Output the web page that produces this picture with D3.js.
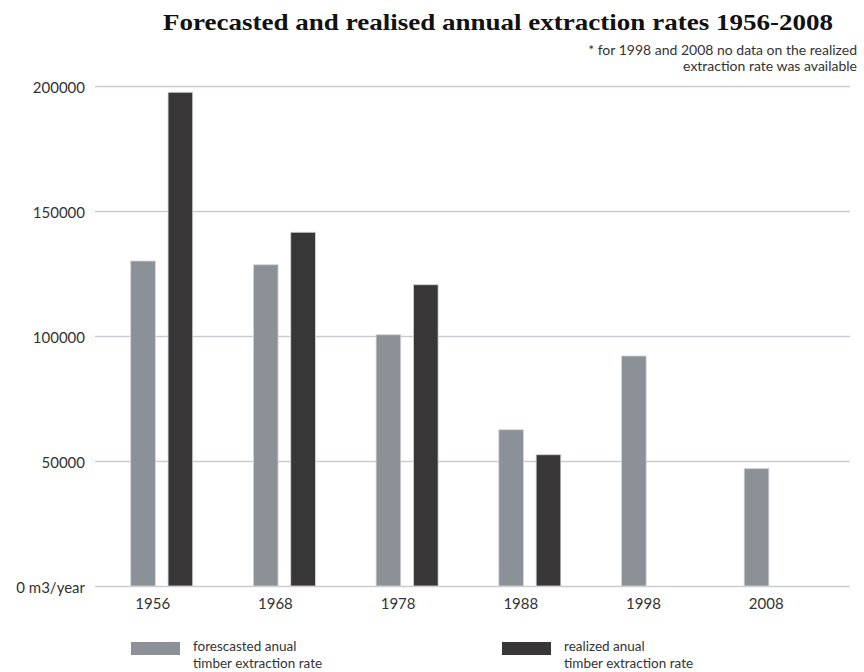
<!DOCTYPE html>
<html><head><meta charset="utf-8">
<script src="https://cdn.jsdelivr.net/npm/d3@7"></script>
<style>
body{margin:0;background:#fff;}
text{font-family:"Lato","Open Sans",sans-serif;}
</style></head>
<body><svg id="c" width="864" height="672"></svg>
<script>
const years = ["1956","1968","1978","1988","1998","2008"];
const forecasted = [130000,128500,100500,62500,92000,47000];
const realized = [197500,141500,120500,52500,null,null];
const yTicks = [0,50000,100000,150000,200000];
const yTickLabels = ["0 m3/year","50000","100000","150000","200000"];
const seriesNames = ["forescasted anual|timber extraction rate","realized anual|timber extraction rate"];
const colors = ["#8b9197","#383637"];

const svg = d3.select("#c");
const y = d3.scaleLinear().domain([0,200000]).range([586,86]);
const step = 122.7, p = 0.4947;
const x = d3.scaleBand().domain(years).range([130.7, 130.7 + step*(years.length - p)]).paddingInner(p).paddingOuter(0);
const xs = d3.scaleBand().domain([0,1]).range([0, x.bandwidth()]).paddingInner(0.34);

svg.append("text").attr("x",498).attr("y",30).attr("text-anchor","middle")
  .attr("textLength",670).attr("lengthAdjust","spacingAndGlyphs")
  .style("font-family","'Liberation Serif','DejaVu Serif',serif").style("font-weight","bold").style("font-size","24px").attr("fill","#111")
  .text("Forecasted and realised annual extraction rates 1956-2008");

const note = svg.append("text").attr("text-anchor","end").style("font-size","14px").attr("fill","#333");
note.append("tspan").attr("x",857).attr("y",55).text("* for 1998 and 2008 no data on the realized");
note.append("tspan").attr("x",857).attr("y",71).text("extraction rate was available");

// grid
const yAxis = d3.axisLeft(y).tickValues(yTicks).tickSize(-(850-95)).tickFormat((d,i)=>yTickLabels[i]).tickPadding(10);
const ga = svg.append("g").attr("transform","translate(95,0)").call(yAxis);
ga.select(".domain").remove();
ga.selectAll(".tick line").attr("stroke","#c9cdd1").attr("stroke-width",1.5);
ga.selectAll(".tick text").style("font-size","15px").attr("fill","#333").attr("dy","0.42em").style("font-family","'Lato',sans-serif");

// bars
const data = [];
years.forEach((yr,i)=>{
  [forecasted[i],realized[i]].forEach((v,s)=>{ if(v!=null) data.push({yr,s,v}); });
});
svg.append("g").selectAll("rect").data(data).join("rect")
  .attr("x",d=>x(d.yr)+xs(d.s)).attr("width",xs.bandwidth())
  .attr("y",d=>y(d.v)).attr("height",d=>y(0)-y(d.v))
  .attr("fill",d=>colors[d.s]).attr("stroke","#d4d6d8").attr("stroke-width",0.8);

// x labels
svg.append("g").selectAll("text").data(years).join("text")
  .attr("x",d=>x(d)+22).attr("y",609).attr("text-anchor","middle")
  .style("font-size","15px").attr("fill","#333").text(d=>d);

// legend
const lx = [131,502];
seriesNames.forEach((n,i)=>{
  svg.append("rect").attr("x",lx[i]).attr("y",642).attr("width",49).attr("height",13).attr("fill",colors[i]);
  n.split("|").forEach((l,j)=>svg.append("text").style("font-size","13.5px").attr("fill","#333")
    .attr("x",lx[i]+62).attr("y",651+j*16.5).text(l));
});
</script></body></html>
